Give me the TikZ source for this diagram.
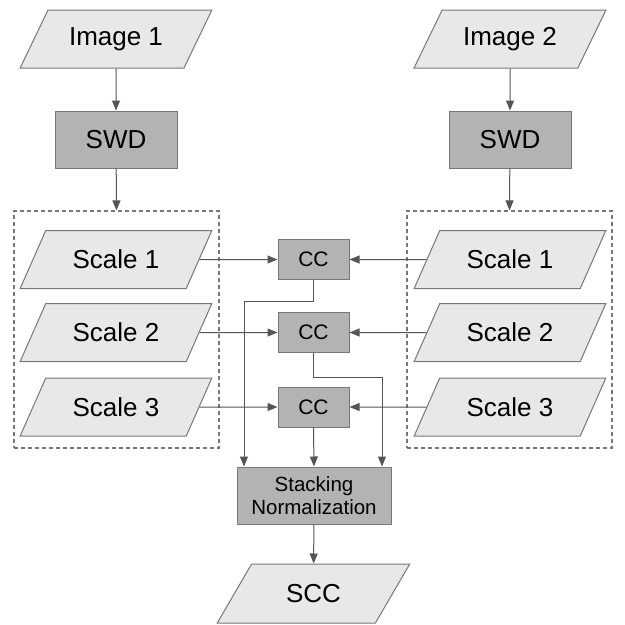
\documentclass[tikz,border=0pt]{standalone}
\usepackage{fontspec}
\setmainfont{Liberation Sans}
\usetikzlibrary{shapes.geometric,arrows.meta}
\definecolor{lightfill}{HTML}{E8E8E8}
\definecolor{darkfill}{HTML}{B3B3B3}
\definecolor{edgegray}{HTML}{777777}
\definecolor{linegray}{HTML}{555555}
\begin{document}
\begin{tikzpicture}[x=1pt,y=-1pt,
  para/.style={trapezium, trapezium left angle=50.4, trapezium right angle=129.6,
    trapezium stretches=true, minimum width=192pt, minimum height=58pt,
    fill=lightfill, draw=edgegray, line width=1pt, inner sep=0pt,
    font=\fontsize{26}{28}\selectfont},
  procbox/.style={rectangle, fill=darkfill, draw=edgegray, line width=1pt, inner sep=0pt,
    font=\fontsize{26}{28}\selectfont},
  ccbox/.style={procbox, minimum width=71pt, minimum height=40pt, font=\fontsize{21}{23}\selectfont},
  group/.style={rectangle, draw=edgegray, dash pattern=on 4pt off 3pt, line width=1.1pt,
    minimum width=205pt, minimum height=237pt, inner sep=0pt},
  conn/.style={draw=linegray, line width=1pt, -{Triangle[length=10pt,width=8pt]}}
]
\useasboundingbox (0,0) rectangle (625,625);
% left column
\node[para] (img1) at (116,39) {Image 1};
\node[procbox, minimum width=122pt, minimum height=57pt] (swd1) at (116,139.5) {SWD};
\node[group] (box1) at (116.5,329.5) {};
\node[para] (s1L) at (116,259.5) {Scale 1};
\node[para] (s2L) at (116,332.5) {Scale 2};
\node[para] (s3L) at (116,407) {Scale 3};
% right column
\node[para] (img2) at (510,39) {Image 2};
\node[procbox, minimum width=122pt, minimum height=57pt] (swd2) at (510,139.5) {SWD};
\node[group] (box2) at (509.5,329.5) {};
\node[para] (s1R) at (510,259.5) {Scale 1};
\node[para] (s2R) at (510,332.5) {Scale 2};
\node[para] (s3R) at (510,407) {Scale 3};
% middle
\node[ccbox] (cc1) at (313.5,259.5) {CC};
\node[ccbox] (cc2) at (313.5,332.5) {CC};
\node[ccbox] (cc3) at (313.5,407) {CC};
\node[procbox, minimum width=154pt, minimum height=57pt, align=center,
  font=\fontsize{20.5}{23}\selectfont] (stack) at (314,495.5) {Stacking\\Normalization};
\node[para, minimum width=193pt, minimum height=59pt] (scc) at (313.5,593.5) {SCC};
% connectors
\draw[conn] (img1) -- (swd1);
\draw[conn] (swd1) -- (box1.north);
\draw[conn] (img2) -- (swd2);
\draw[conn] (swd2) -- (box2.north);
\draw[conn] (s1L.east) -- (cc1.west);
\draw[conn] (s2L.east) -- (cc2.west);
\draw[conn] (s3L.east) -- (cc3.west);
\draw[conn] (s1R.west) -- (cc1.east);
\draw[conn] (s2R.west) -- (cc2.east);
\draw[conn] (s3R.west) -- (cc3.east);
\draw[conn] (cc1.south) -- ++(0,21) -| ([xshift=-70pt]stack.north);
\draw[conn] (cc2.south) -- ++(0,24.5) -| ([xshift=68pt]stack.north);
\draw[conn] (cc3.south) -- (stack.north);
\draw[conn] (stack) -- (scc);
\end{tikzpicture}
\end{document}
